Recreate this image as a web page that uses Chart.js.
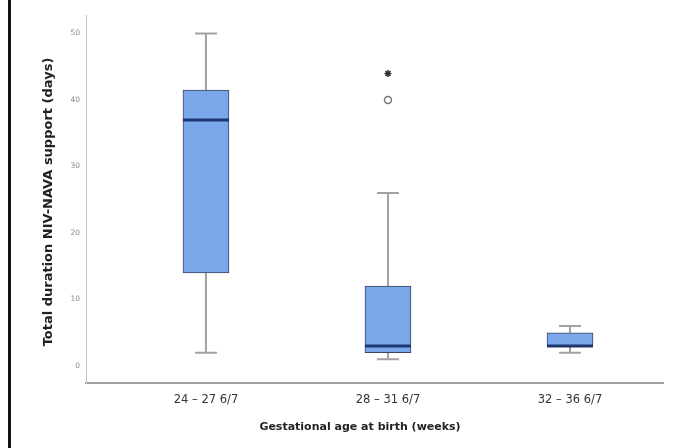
<!DOCTYPE html>
<html>
<head>
<meta charset="utf-8">
<script src="https://cdn.jsdelivr.net/npm/chart.js@4/dist/chart.umd.min.js"></script>
<style>
  html, body { margin: 0; padding: 0; background: #fff; }
  #wrap { position: relative; width: 678px; height: 448px; }
  #edge { position: absolute; left: 8px; top: 0; width: 3px; height: 448px; background: #111; }
</style>
</head>
<body>
<div id="wrap">
  <canvas id="myChart" width="678" height="448"></canvas>
  <div id="edge"></div>
</div>
<script>
// box plot values (days)
const groups = ['24 – 27 6/7', '28 – 31 6/7', '32 – 36 6/7'];
const mins = [2, 1, 2];
const q1s = [14, 2, 3];
const medians = [37, 3, 3];
const q3s = [41.5, 12, 5];
const maxs = [50, 26, 6];
const circleOutliers = [[], [40], []];
const starOutliers = [[], [44], []];
const yTicks = [0, 10, 20, 30, 40, 50];

const positions = groups.map((g, i) => i + 1);

const boxes = positions.map((p, i) => ({ x: p, y: [q1s[i], q3s[i]] }));
const circles = [];
const stars = [];
positions.forEach((p, i) => {
  circleOutliers[i].forEach(v => circles.push({ x: p, y: v }));
  starOutliers[i].forEach(v => stars.push({ x: p, y: v }));
});

// whiskers, caps and medians drawn with the chart scales
const boxExtras = {
  id: 'boxExtras',
  beforeDatasetsDraw(chart) {
    const { ctx, scales: { x, y } } = chart;
    ctx.save();
    ctx.strokeStyle = '#a2a2a2';
    ctx.lineWidth = 2;
    positions.forEach((p, i) => {
      const px = x.getPixelForValue(p);
      ctx.beginPath();
      ctx.moveTo(px, y.getPixelForValue(maxs[i]));
      ctx.lineTo(px, y.getPixelForValue(q3s[i]));
      ctx.moveTo(px, y.getPixelForValue(q1s[i]));
      ctx.lineTo(px, y.getPixelForValue(mins[i]));
      ctx.moveTo(px - 11, y.getPixelForValue(maxs[i]));
      ctx.lineTo(px + 11, y.getPixelForValue(maxs[i]));
      ctx.moveTo(px - 11, y.getPixelForValue(mins[i]));
      ctx.lineTo(px + 11, y.getPixelForValue(mins[i]));
      ctx.stroke();
    });
    ctx.restore();
  },
  afterDatasetsDraw(chart) {
    const { ctx, scales: { x, y } } = chart;
    ctx.save();
    ctx.strokeStyle = '#1e3670';
    ctx.lineWidth = 3;
    positions.forEach((p, i) => {
      const px = x.getPixelForValue(p);
      const py = y.getPixelForValue(medians[i]);
      ctx.beginPath();
      ctx.moveTo(px - 23, py);
      ctx.lineTo(px + 23, py);
      ctx.stroke();
    });
    ctx.restore();
  },
  afterDraw(chart) {
    const { ctx } = chart;
    ctx.save();
    ctx.fillStyle = '#222';
    ctx.font = 'bold 11px "DejaVu Sans", sans-serif';
    ctx.textAlign = 'center';
    ctx.textBaseline = 'middle';
    ctx.fillText('Gestational age at birth (weeks)', 360, 427);
    ctx.translate(49, 202);
    ctx.rotate(-Math.PI / 2);
    ctx.font = 'bold 13px "DejaVu Sans", sans-serif';
    ctx.fillText('Total duration NIV-NAVA support (days)', 0, 0);
    ctx.restore();
  }
};

const ctx = document.getElementById('myChart');

new Chart(ctx, {
  type: 'bar',
  data: {
    datasets: [{
      type: 'bar',
      data: boxes,
      backgroundColor: '#79a7ea',
      borderColor: '#3b4663',
      borderWidth: 1,
      borderSkipped: false,
      barThickness: 46,
      order: 2
    }, {
      type: 'scatter',
      data: circles,
      pointStyle: 'circle',
      radius: 3.5,
      borderWidth: 1.5,
      borderColor: '#777',
      backgroundColor: '#fff',
      order: 1
    }, {
      type: 'scatter',
      data: stars,
      pointStyle: 'star',
      radius: 3.5,
      borderWidth: 1.5,
      borderColor: '#333',
      backgroundColor: '#333',
      order: 1
    }]
  },
  options: {
    responsive: false,
    animation: false,
    layout: { padding: { left: 0, right: 15, top: 15, bottom: 0 } },
    plugins: { legend: { display: false }, tooltip: { enabled: false } },
    scales: {
      x: {
        type: 'linear',
        min: 0.341,
        max: 3.511,
        offset: false,
        grid: { display: false, drawTicks: false },
        border: { color: '#a0a0a0', width: 2 },
        afterBuildTicks: (s) => { s.ticks = positions.map(v => ({ value: v })); },
        afterFit: (s) => { s.height = 65; },
        ticks: {
          padding: 10,
          color: '#333',
          font: { family: '"DejaVu Sans", sans-serif', size: 11.5 },
          callback: (v) => groups[v - 1]
        }
      },
      y: {
        min: -2.56,
        max: 52.78,
        grid: { display: false, drawTicks: false },
        border: { color: '#c4c4c4', width: 1 },
        afterBuildTicks: (s) => { s.ticks = yTicks.map(v => ({ value: v })); },
        afterFit: (s) => { s.width = 86; },
        ticks: {
          padding: 6,
          color: '#888',
          font: { family: '"DejaVu Sans", sans-serif', size: 7.5 }
        }
      }
    }
  },
  plugins: [boxExtras]
});
</script>
</body>
</html>
